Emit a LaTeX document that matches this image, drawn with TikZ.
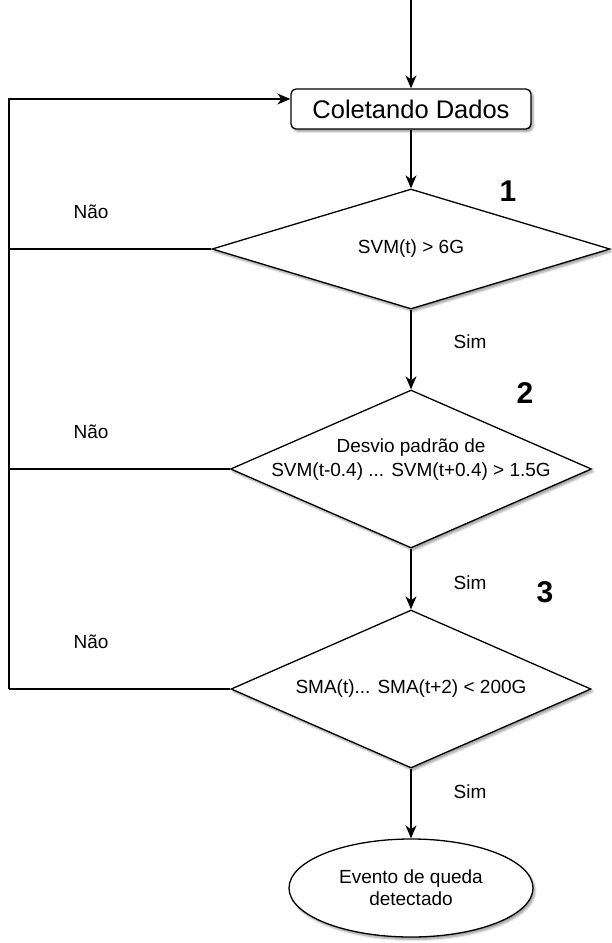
\documentclass[tikz,border=0pt]{standalone}
\usepackage{fontspec}
\setmainfont{Liberation Sans}
\usetikzlibrary{shapes.geometric,arrows.meta,calc,shadows.blur}
\begin{document}
\begin{tikzpicture}[x=1pt,y=-1pt,
  line width=1.3pt,
  arr/.style={-{Stealth[length=13pt,width=11pt,inset=4pt]}},
  shad/.style={blur shadow={shadow xshift=2pt,shadow yshift=-2.5pt,shadow blur steps=6,shadow opacity=40}},
  boxstyle/.style={draw,rectangle,rounded corners=5pt,minimum width=240pt,minimum height=40pt,inner sep=0pt,fill=white,shad,font=\fontsize{25.5}{30}\selectfont},
  dia/.style={draw,diamond,inner sep=0pt,fill=white,shad},
  dtext/.style={align=center,font=\fontsize{19}{24}\selectfont},
  lbl/.style={font=\fontsize{19}{23}\selectfont},
  num/.style={font=\fontsize{30}{34}\selectfont\bfseries}]
\useasboundingbox (0,0) rectangle (611,943);
\node[boxstyle] (box) at (411,109) {Coletando Dados};
\node[dia,minimum width=398pt,minimum height=120pt] (d1) at (411,249) {};
\node[dtext] at (d1) {SVM(t) > 6G};
\node[dia,minimum width=361pt,minimum height=158pt] (d2) at (411,469) {};
\node[dtext] at (411,460) {Desvio padrão de\\SVM(t-0.4) ... SVM(t+0.4) > 1.5G};
\node[dia,minimum width=360pt,minimum height=158pt] (d3) at (411,689) {};
\node[dtext] at (d3) {SMA(t)... SMA(t+2) < 200G};
\node[draw,ellipse,minimum width=244pt,minimum height=98pt,inner sep=0pt,fill=white,shad,align=center,font=\fontsize{19}{22}\selectfont] (ev) at (411,888) {Evento de queda\\detectado};

\node[num] (n1) at (508,191) {1};
\node[num] (n2) at (525,393) {2};
\node[num] (n3) at (545,592) {3};
\node[lbl] (s1) at (470,342) {Sim};
\node[lbl] (s2) at (470,583) {Sim};
\node[lbl] (s3) at (470,792) {Sim};
\node[lbl] (na1) at (91,212) {Não};
\node[lbl] (na2) at (91,432) {Não};
\node[lbl] (na3) at (91,642) {Não};

\coordinate (top) at (411,0);
\coordinate (c1) at (9,249);
\coordinate (c2) at (9,469);
\coordinate (c3) at (9,689);
\coordinate (ct) at (9,99);
\coordinate (entry) at ($(box.west)+(0,-10)$);

\draw[arr] (top) -- (box.north);
\draw[arr] (box.south) -- (d1.north);
\draw[arr] (d1.south) -- (d2.north);
\draw[arr] (d2.south) -- (d3.north);
\draw[arr] (d3.south) -- (ev.north);
\draw (d1.west) -- (c1);
\draw (d2.west) -- (c2);
\draw (d3.west) -- (c3);
\draw[arr] (c3) -- (ct) -- (entry);
\end{tikzpicture}
\end{document}
